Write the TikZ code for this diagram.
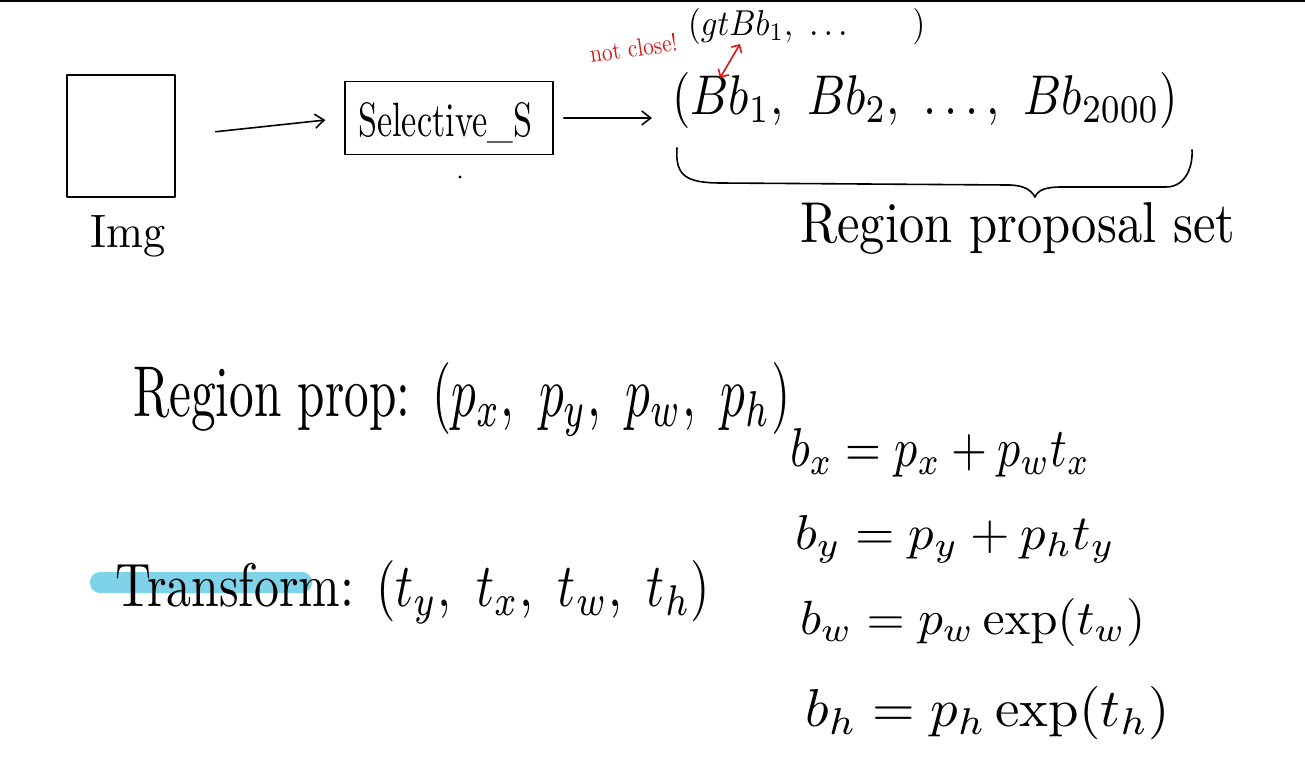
\documentclass[tikz,border=0pt]{standalone}
\usepackage{amsmath}
\usepackage{graphicx}
\usetikzlibrary{arrows.meta}
\definecolor{hl}{RGB}{127,211,232}
\definecolor{redpen}{RGB}{214,24,24}
\newcommand{\fitto}[3]{\resizebox{#1pt}{#2pt}{#3}}
\begin{document}
\begin{tikzpicture}[x=1pt,y=-1pt,
  pen/.style={line width=1.6pt, line cap=round, line join=round},
  hand/.style={inner sep=0pt, anchor=base west},
  arr/.style={pen, -{Straight Barb[length=9pt,width=14pt]}},
  redtext/.style={text=redpen, inner sep=0pt, anchor=base west}]
\useasboundingbox (0,0) rectangle (1305,782);
\fill[white] (0,0) rectangle (1305,782);
\draw[line width=1.5pt] (0,0.75) -- (1305,0.75);
% image box
\node[draw, pen, minimum width=108pt, minimum height=122pt, inner sep=0pt] (img) at (121,136) {};
\node[hand] (imglbl) at (90,247) {\fitto{75}{32}{Img}};
% selective search
\node[draw, pen, minimum width=208pt, minimum height=73pt, inner sep=0pt] (sel) at (449,118) {};
\node[hand] (seltxt) at (358,136) {\fitto{174}{34}{Selective\_S}};
\fill (460,177) circle (1.6pt);
% proposals
\node[hand] (bbs) at (672,114) {\fitto{506}{42}{$(Bb_1,\ Bb_2,\ \dots,\ Bb_{2000})$}};
\node[hand] (gt) at (688,35) {\fitto{237}{27}{$(gtBb_1,\ \dots\qquad)$}};
\draw[arr, shorten <=40pt, shorten >=19pt] (img.east) -- (sel.west);
\draw[arr, shorten <=10pt, shorten >=20pt] (sel.east) -- (sel.east -| bbs.west);
% red annotation
\node[redtext, rotate=8] (nc) at (591,63) {\fitto{88}{18}{not close!}};
\coordinate (r1) at (740,44);
\coordinate (r2) at (720,78);
\draw[redpen, line width=1.6pt, {Straight Barb[length=6pt]}-{Straight Barb[length=6pt]}] (r1) -- (r2);
% brace
\coordinate (b1) at (677,148);
\coordinate (b2) at (1192,150);
\draw[pen] (b1) .. controls (675,176) and (686,183) .. (722,183)
  -- (1008,185) .. controls (1024,185) and (1031,190) .. (1035,197)
  .. controls (1038,190) and (1045,187) .. (1062,187)
  -- (1166,187) .. controls (1186,187) and (1193,166) .. (b2);
\node[hand] (rps) at (800,242) {\fitto{435}{40}{Region proposal set}};
% region prop
\node[hand] (rp) at (133,416) {\fitto{657}{54}{Region prop: $(p_x,\ p_y,\ p_w,\ p_h)$}};
% transform
\fill[hl, rounded corners=10pt] (90,572) rectangle (312,593);
\node[hand] (tf) at (115,606) {\fitto{595}{46}{Transform: $(t_y,\ t_x,\ t_w,\ t_h)$}};
% equations
\node[hand] (e1) at (790,466) {\fitto{300}{38}{$b_x = p_x + p_w t_x$}};
\node[hand] (e2) at (795,549) {\fitto{320}{34}{$b_y = p_y + p_h t_y$}};
\node[hand] (e3) at (800,634) {\fitto{345}{36}{$b_w = p_w \exp(t_w)$}};
\node[hand] (e4) at (805,726) {\fitto{365}{40}{$b_h = p_h \exp(t_h)$}};
\end{tikzpicture}
\end{document}
